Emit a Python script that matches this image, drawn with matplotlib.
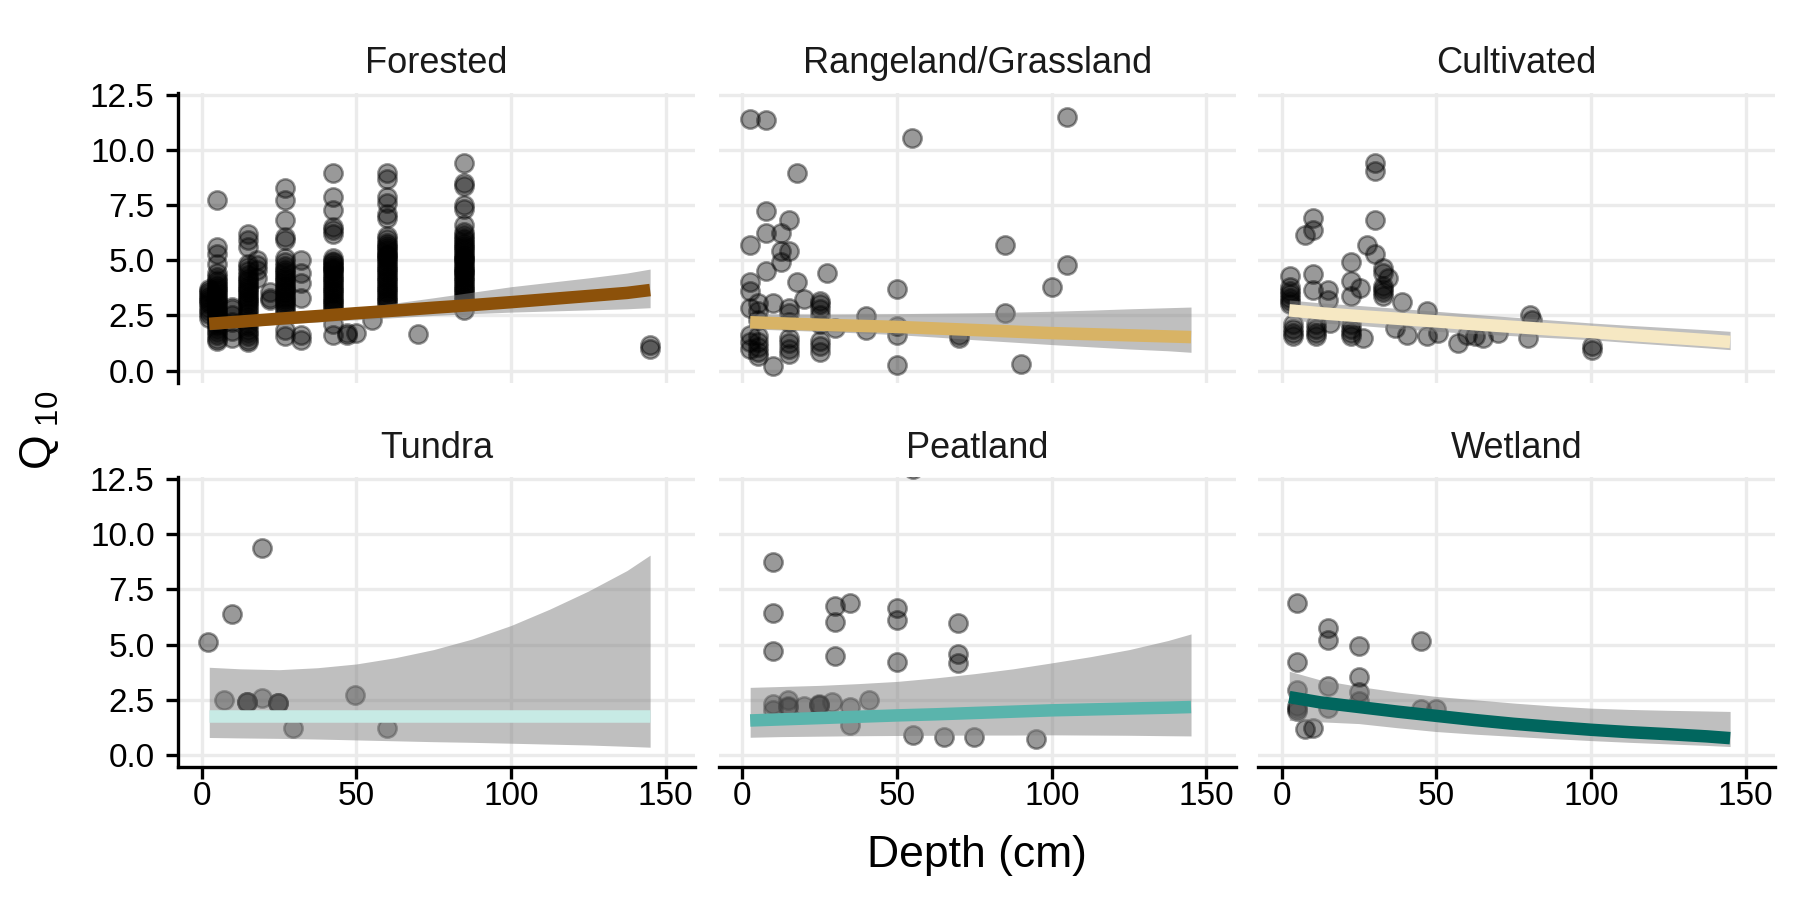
import matplotlib
matplotlib.use("Agg")
import matplotlib.pyplot as plt
import matplotlib.ticker as mticker

plt.rcParams['font.family'] = ['Liberation Sans', 'DejaVu Sans']
plt.rcParams['mathtext.fontset'] = 'custom'
plt.rcParams['mathtext.rm'] = 'Liberation Sans'
plt.rcParams['mathtext.it'] = 'Liberation Sans'

panels = ["Forested", "Rangeland/Grassland", "Cultivated", "Tundra", "Peatland", "Wetland"]
line_colors = ["#8C510A", "#D8B365", "#F6E8C3", "#C7EAE5", "#5AB4AC", "#01665E"]

x_ticks = [0, 50, 100, 150]
y_ticks = [0.0, 2.5, 5.0, 7.5, 10.0, 12.5]

# ---------------- observed points ----------------
forested_x = ([2.5] * 12 + [5] * 33 + [10] * 6 + [15] * 32 + [18] * 4 + [22] * 3
              + [27] * 30 + [32] * 6 + [42.5] * 34 + [47] * 2 + [50, 55]
              + [60] * 38 + [70] + [85] * 40 + [145, 145])
forested_y = ([2.4, 2.55, 2.7, 2.85, 3.0, 3.1, 3.2, 3.3, 3.4, 3.5, 3.6, 3.7]
              + [1.35, 1.45, 1.6, 1.75, 1.9, 2.0, 2.1, 2.2, 2.3, 2.4, 2.5, 2.6, 2.7, 2.8, 2.9, 3.0,
                 3.1, 3.2, 3.3, 3.4, 3.5, 3.6, 3.7, 3.8, 3.9, 4.0, 4.1, 4.25, 4.4, 4.85, 5.3, 5.6, 7.73]
              + [1.5, 1.8, 2.2, 2.5, 2.8, 2.9]
              + [1.3, 1.4, 1.55, 1.7, 1.85, 2.0, 2.15, 2.3, 2.45, 2.6, 2.75, 2.9, 3.0, 3.1, 3.2, 3.3,
                 3.4, 3.5, 3.6, 3.7, 3.8, 3.9, 4.0, 4.1, 4.2, 4.35, 4.5, 4.7, 4.85, 5.6, 5.9, 6.2]
              + [4.2, 4.56, 4.8, 5.0]
              + [3.2, 3.58, 3.3]
              + [1.55, 1.85, 2.6, 2.75, 2.9, 3.0, 3.1, 3.2, 3.3, 3.4, 3.5, 3.6, 3.7, 3.8, 3.9, 4.0,
                 4.1, 4.2, 4.3, 4.4, 4.5, 4.6, 4.75, 4.94, 5.1, 5.9, 6.06, 6.82, 7.73, 8.26]
              + [1.4, 1.6, 3.28, 3.96, 4.4, 5.0]
              + [1.6, 2.1, 2.75, 2.85, 2.95, 3.05, 3.15, 3.25, 3.35, 3.45, 3.55, 3.65, 3.75, 3.85,
                 3.95, 4.05, 4.15, 4.25, 4.35, 4.45, 4.55, 4.65, 4.75, 4.85, 4.95, 5.1, 6.2, 6.36,
                 6.5, 7.27, 7.88, 8.94, 4.6, 4.9]
              + [1.6, 1.72]
              + [1.72, 2.3]
              + [2.97, 3.1, 3.2, 3.3, 3.4, 3.5, 3.6, 3.7, 3.8, 3.9, 4.0, 4.1, 4.2, 4.3, 4.4, 4.5,
                 4.6, 4.7, 4.8, 4.9, 5.0, 5.1, 5.2, 5.3, 5.4, 5.5, 5.6, 5.7, 5.8, 5.95, 6.1, 6.9,
                 7.1, 7.6, 7.88, 8.7, 8.94, 5.25]
              + [1.66]
              + [2.75, 3.2, 3.3, 3.4, 3.5, 3.6, 3.7, 3.8, 3.9, 4.0, 4.1, 4.2, 4.3, 4.4, 4.5, 4.6,
                 4.7, 4.8, 4.9, 5.0, 5.1, 5.2, 5.3, 5.4, 5.5, 5.6, 5.7, 5.8, 5.9, 6.0, 6.15, 6.3,
                 6.6, 7.3, 7.5, 8.35, 8.5, 9.4, 4.45, 5.05]
              + [1.0, 1.15])

rangeland_x = [2.5, 7.5, 54.8, 105, 17.5, 7.5, 15, 7.5, 12.4, 2.5, 12.4, 15, 12.4, 7.5, 27.3,
               2.5, 2.5, 17.5, 50, 84.8, 105, 100, 84.8, 20, 2.5, 5, 10, 15, 25, 25, 25,
               40, 40, 30, 50, 50, 50, 70, 70, 90, 10,
               5, 5, 5, 5, 5, 5, 5, 15, 15, 15, 15, 15, 15, 25, 25, 25, 25, 25, 2.5, 2.5, 2.5]
rangeland_y = [11.4, 11.34, 10.54, 11.49, 8.94, 7.22, 6.81, 6.23, 6.23, 5.69, 5.4, 5.4, 4.9, 4.5, 4.44,
               4.0, 3.6, 4.0, 3.7, 5.69, 4.79, 3.8, 2.6, 3.25, 2.82, 3.06, 3.06, 2.82, 3.14, 3.0, 2.8,
               2.46, 1.86, 1.93, 2.0, 1.63, 0.27, 1.63, 1.5, 0.32, 0.23,
               0.65, 0.85, 1.05, 1.3, 1.55, 2.3, 2.7, 0.75, 1.0, 1.25, 1.5, 2.2, 2.6, 0.85, 1.1, 1.35, 2.1, 2.5,
               1.0, 1.3, 1.6]

cultivated_x = [30.2, 30.2, 30.2, 10.2, 10.2, 7.5, 27.5, 30.2, 22.6, 32.9, 34.5, 32.9,
                32.9, 32.9, 32.9, 32.9, 10.2, 10.2, 2.7, 2.7, 2.7, 2.7, 2.7, 2.7, 2.7,
                15, 15, 22.6, 22.6, 25.3, 39, 47, 47, 57, 62.5, 70, 80.3, 80.8, 79.7,
                100.2, 100.2, 3.8, 3.8, 3.8, 3.8, 11.3, 11.3, 11.3, 11.3, 22.6, 22.6, 22.6, 22.6,
                26.4, 36.6, 40.4, 50.6, 15.6, 60, 65]
cultivated_y = [9.4, 9.03, 6.84, 6.91, 6.39, 6.13, 5.68, 5.3, 4.9, 4.65, 4.2, 4.4,
                3.4, 3.55, 3.7, 3.85, 4.39, 3.67, 4.27, 3.0, 3.15, 3.3, 3.45, 3.6, 3.8,
                3.67, 3.2, 4.05, 3.37, 3.74, 3.11, 2.69, 1.55, 1.25, 1.55, 1.7, 2.54, 2.3, 1.48,
                1.1, 0.95, 1.55, 1.7, 1.9, 2.1, 1.55, 1.7, 1.9, 2.1, 1.55, 1.7, 1.9, 2.1,
                1.48, 1.93, 1.63, 1.7, 2.16, 1.6, 1.5]

tundra_x = [2.2, 9.7, 19.7, 7.2, 14.8, 14.8, 14.8, 19.7, 24.8, 24.8, 24.8, 29.6, 49.7, 59.8]
tundra_y = [5.1, 6.4, 9.39, 2.5, 2.39, 2.4, 2.38, 2.57, 2.35, 2.36, 2.34, 1.21, 2.73, 1.21]

peatland_x = [9.9, 9.9, 9.9, 9.9, 14.8, 14.8, 14.8, 20, 24.8, 24.8, 24.8, 29.1, 29.8, 29.8, 29.8,
              34.9, 34.9, 34.9, 41, 49.9, 49.9, 49.9, 55, 65, 74.9, 69.8, 69.8, 69.8, 95, 9.9, 55]
peatland_y = [8.74, 6.41, 4.69, 2.05, 2.5, 2.17, 2.2, 2.2, 2.27, 2.25, 2.3, 2.4, 6.74, 6.02, 4.5,
              6.89, 2.16, 1.36, 2.5, 6.67, 6.12, 4.2, 0.9, 0.8, 0.8, 5.99, 4.58, 4.17, 0.71, 2.3, 12.95]

wetland_x = [5, 15, 15, 25, 45, 5, 25, 5, 15, 25, 25, 5, 5, 15, 45, 50, 7.5, 10.2, 5]
wetland_y = [6.86, 5.73, 5.2, 4.95, 5.15, 4.2, 3.53, 2.95, 3.1, 2.83, 2.42, 2.08, 2.0, 2.12, 2.08,
             2.08, 1.17, 1.21, 2.2]

# ---------------- fitted curves with confidence bands ----------------
fit_depth = [2.5, 12.5, 25, 37.5, 50, 62.5, 75, 87.5, 100, 112.5, 125, 137.5, 145]
forested_fit = [2.12, 2.22, 2.35, 2.47, 2.6, 2.72, 2.85, 2.97, 3.1, 3.24, 3.38, 3.52, 3.65]
forested_lo = [1.85, 1.97, 2.1, 2.2, 2.3, 2.4, 2.5, 2.58, 2.65, 2.7, 2.75, 2.8, 2.85]
forested_hi = [2.4, 2.5, 2.6, 2.72, 2.85, 3.06, 3.3, 3.55, 3.8, 4.0, 4.2, 4.42, 4.6]
rangeland_fit = [2.19, 2.14, 2.08, 2.03, 1.98, 1.91, 1.84, 1.77, 1.7, 1.65, 1.6, 1.55, 1.52]
rangeland_lo = [1.89, 1.84, 1.78, 1.71, 1.63, 1.52, 1.4, 1.29, 1.18, 1.08, 0.98, 0.9, 0.83]
rangeland_hi = [2.58, 2.57, 2.56, 2.57, 2.58, 2.6, 2.62, 2.65, 2.69, 2.74, 2.8, 2.85, 2.88]
cultivated_fit = [2.73, 2.6, 2.47, 2.35, 2.23, 2.1, 1.98, 1.86, 1.75, 1.62, 1.5, 1.38, 1.3]
cultivated_lo = [2.3, 2.17, 2.05, 1.91, 1.78, 1.68, 1.58, 1.49, 1.4, 1.27, 1.15, 1.03, 0.95]
cultivated_hi = [3.2, 3.07, 2.95, 2.82, 2.69, 2.55, 2.42, 2.29, 2.16, 2.05, 1.95, 1.85, 1.78]
tundra_fit = [1.77, 1.77, 1.77, 1.77, 1.77, 1.77, 1.77, 1.77, 1.77, 1.77, 1.77, 1.77, 1.77]
tundra_lo = [0.79, 0.77, 0.75, 0.72, 0.68, 0.64, 0.6, 0.57, 0.53, 0.49, 0.45, 0.39, 0.35]
tundra_hi = [3.97, 3.9, 3.86, 3.95, 4.12, 4.4, 4.77, 5.25, 5.86, 6.6, 7.42, 8.35, 9.05]
peatland_fit = [1.56, 1.61, 1.67, 1.73, 1.79, 1.84, 1.9, 1.96, 2.02, 2.06, 2.1, 2.14, 2.17]
peatland_lo = [0.8, 0.83, 0.85, 0.87, 0.88, 0.89, 0.9, 0.9, 0.91, 0.9, 0.89, 0.87, 0.86]
peatland_hi = [3.06, 3.1, 3.15, 3.23, 3.33, 3.49, 3.68, 3.9, 4.17, 4.45, 4.77, 5.18, 5.48]
wetland_fit = [2.62, 2.38, 2.17, 1.96, 1.77, 1.58, 1.41, 1.27, 1.14, 1.03, 0.94, 0.84, 0.76]
wetland_lo = [1.56, 1.5, 1.42, 1.23, 1.06, 0.94, 0.84, 0.74, 0.65, 0.57, 0.5, 0.43, 0.38]
wetland_hi = [3.79, 3.4, 3.1, 2.85, 2.65, 2.5, 2.35, 2.22, 2.12, 2.06, 2.02, 1.99, 1.97]

points = [(forested_x, forested_y), (rangeland_x, rangeland_y), (cultivated_x, cultivated_y),
          (tundra_x, tundra_y), (peatland_x, peatland_y), (wetland_x, wetland_y)]
fits = [(forested_fit, forested_lo, forested_hi), (rangeland_fit, rangeland_lo, rangeland_hi),
        (cultivated_fit, cultivated_lo, cultivated_hi), (tundra_fit, tundra_lo, tundra_hi),
        (peatland_fit, peatland_lo, peatland_hi), (wetland_fit, wetland_lo, wetland_hi)]

fig = plt.figure(figsize=(9, 4.5), dpi=200)
lefts = [0.0989, 0.3994, 0.6989]
bottoms = [0.5747, 0.1477]
w, h = 0.2872, 0.3221

for i, name in enumerate(panels):
    r, c = divmod(i, 3)
    ax = fig.add_axes([lefts[c], bottoms[r], w, h])
    ax.set_xlim(-7.6, 159.5)
    ax.set_ylim(-0.55, 12.58)
    ax.set_xticks(x_ticks)
    ax.set_yticks(y_ticks)
    ax.grid(True, color='#EBEBEB', linewidth=1.2)
    ax.set_axisbelow(True)
    for s in ax.spines.values():
        s.set_visible(False)
    px, py = points[i]
    ax.scatter(px, py, s=44, c='black', alpha=0.4, edgecolors='black', linewidths=0.9, zorder=2)
    fit, lo, hi = fits[i]
    ax.fill_between(fit_depth, lo, hi, color='#808080', alpha=0.5, linewidth=0, zorder=3)
    ax.plot(fit_depth, fit, color=line_colors[i], linewidth=4.5, solid_capstyle='butt',
            solid_joinstyle='round', zorder=4)
    ax.set_title(name, fontsize=13, color='#1A1A1A', pad=7)
    if c == 0:
        ax.spines['left'].set_visible(True)
        ax.spines['left'].set_linewidth(1.2)
        ax.yaxis.set_major_formatter(mticker.FormatStrFormatter('%.1f'))
        ax.tick_params(axis='y', length=4.2, width=1.2, labelsize=12, pad=4.2, colors='black')
    else:
        ax.tick_params(axis='y', length=0, labelleft=False)
    if r == 1:
        ax.spines['bottom'].set_visible(True)
        ax.spines['bottom'].set_linewidth(1.2)
        ax.tick_params(axis='x', length=4.2, width=1.2, labelsize=12, pad=0.8, colors='black')
    else:
        ax.tick_params(axis='x', length=0, labelbottom=False)

fig.text(0.5425, 0.05, "Depth (cm)", ha='center', va='center', fontsize=16)
fig.text(0.022, 0.522, r"Q$_{\ 10}$", ha='center', va='center', rotation=90, fontsize=16)

fig.savefig("out.png", dpi=200, facecolor='white')
